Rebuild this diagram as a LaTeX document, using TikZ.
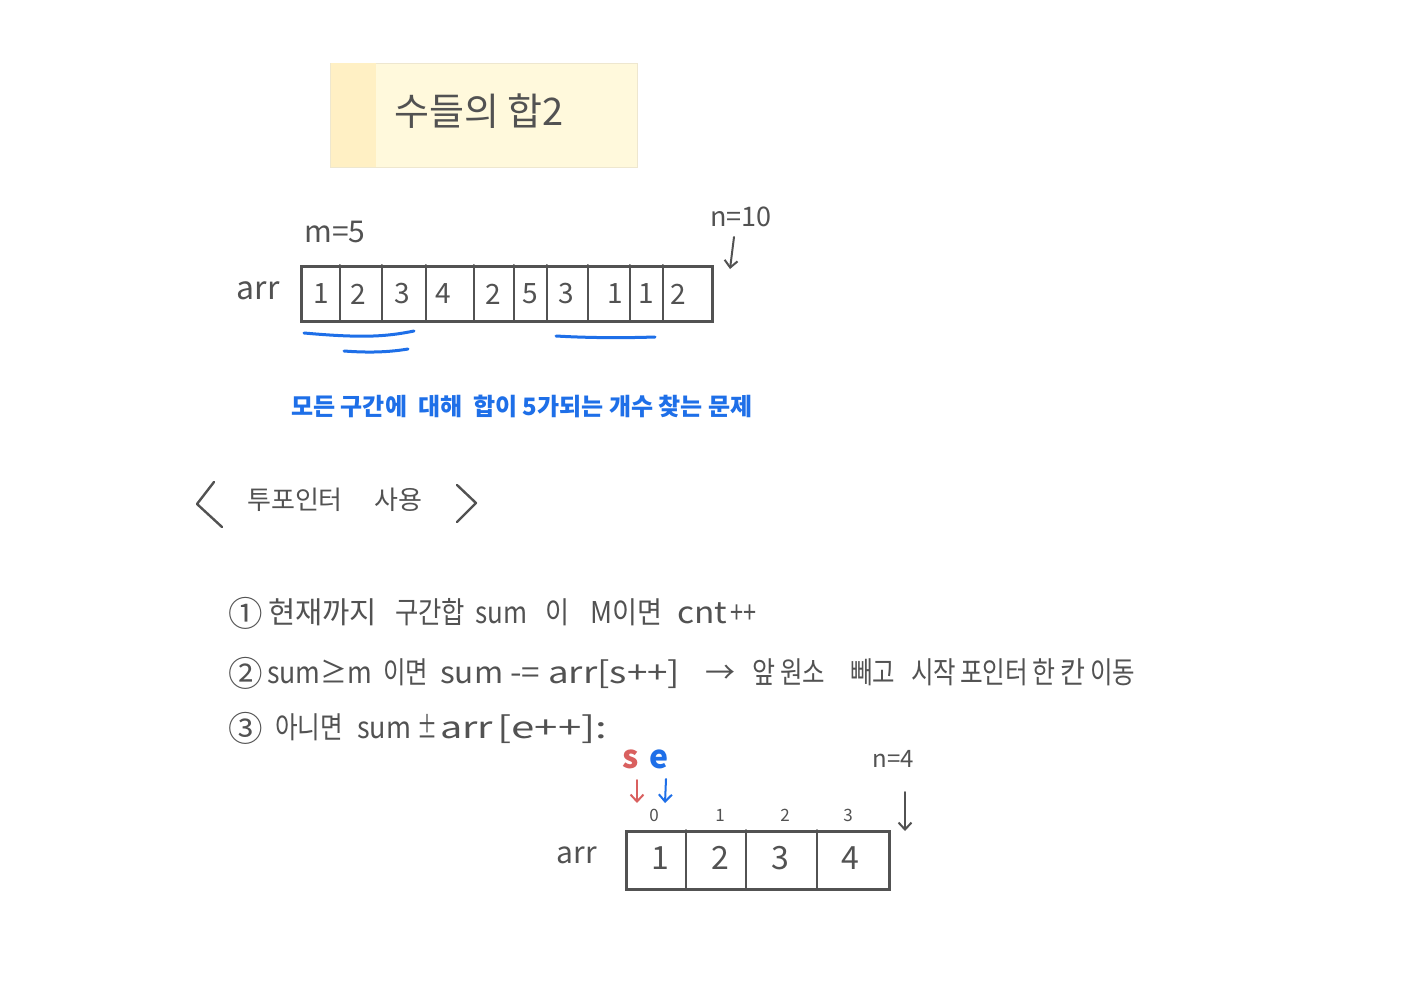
\documentclass[tikz,border=0pt]{standalone}
\usepackage{fontspec}
\setmainfont{Noto Sans CJK KR}
\usetikzlibrary{arrows.meta}
\definecolor{ink}{HTML}{525252}
\definecolor{penblue}{HTML}{1E6FE8}
\definecolor{penred}{HTML}{D9605F}
\definecolor{titlefill}{HTML}{FFF9DC}
\definecolor{titlestrip}{HTML}{FFF0C4}
\definecolor{titleedge}{HTML}{EEE7CF}
\newcommand{\fsz}[1]{\fontsize{#1}{#1}\selectfont}
% place text #3 at offset #1 (relative to line start), stretched/squeezed to width #2
\newcommand{\putat}[3]{\makebox[0pt][l]{\hspace*{#1pt}\resizebox{#2pt}{\height}{#3}}}
\newcommand{\putnat}[2]{\makebox[0pt][l]{\hspace*{#1pt}#2}}
\newcommand{\circnum}[1]{\raisebox{-3pt}{\scalebox{1.15}{#1}}}
\begin{document}
\begin{tikzpicture}[x=1pt,y=-1pt,
  txt/.style={text=ink, inner sep=0pt},
  pen/.style={draw=ink, line width=2.4pt, line cap=round, line join=round},
  thin pen/.style={draw=ink, line width=2pt, line cap=round},
  bluepen/.style={draw=penblue, line width=3pt, line cap=round},
  handarrow/.style={line width=2pt, line cap=round, -{Straight Barb[length=7pt,width=13pt]}},
  cellbox/.style={draw=ink, line width=2.6pt, inner sep=0pt, anchor=north west}]
\fill[white] (0,0) rectangle (1423,1000);
\useasboundingbox (0,0) rectangle (1423,1000);

% title
\node[draw=titleedge, line width=1pt, fill=titlefill, minimum width=307pt, minimum height=104pt, inner sep=0pt, anchor=north west] (title) at (330,63) {};
\fill[titlestrip] ([shift={(0.5pt,-0.5pt)}]title.north west) rectangle ([shift={(46pt,0.5pt)}]title.south west);
\node[txt, anchor=west, font=\fsz{38}] (titletext) at (394,111) {수들의 합2};

% first array
\node[txt, font=\fsz{30}] (m5) at (335,232) {m=5};
\node[txt, font=\fsz{27}] (n10) at (741,217) {n=10};
\coordinate (n10from) at (734,237);
\coordinate (n10to) at (730,269);
\draw[handarrow, draw=ink] (n10from) -- (n10to);
\node[txt, font=\fsz{32}] (arrA) at (258,291) {arr};
\node[cellbox, minimum width=411pt, minimum height=55pt] (rowA) at (300,265) {};
\foreach \x in {340,382,426,474,514,547,588,630,663}
  \draw[thin pen] (\x,265) -- (\x,320);
\foreach \v/\x [count=\i] in {1/321,2/358,3/402,4/443,2/493,5/530,3/566,1/615,1/646,2/678}
  \node[txt, font=\fsz{28}] (a\i) at (\x,294) {\v};
\draw[bluepen] (304,333) .. controls (360,338) and (385,337) .. (414,331);
\draw[bluepen] (344,351) .. controls (370,353) and (390,352) .. (408,349);
\draw[bluepen] (556,336) .. controls (590,338) and (625,338) .. (655,337);

\node[text=penblue, inner sep=0pt, anchor=west, font=\fsz{24}\bfseries] (goal) at (291,406) {모든 구간에 \ 대해 \ 합이 5가되는 개수 찾는 문제};

% two pointer heading
\draw[pen] (214,482) -- (197,504) -- (222,527);
\node[txt, anchor=west, font=\fsz{26}] (tp) at (247,500) {투포인터 \quad 사용};
\draw[pen] (457,485) -- (476,503) -- (457,522);

% steps (offsets measured from x = 228)
\node[txt, anchor=west, font=\fsz{30}] (step1) at (228,613)
  {\putnat{0}{\circnum{①}}\putat{40}{109}{현재까지}\putat{167}{70}{구간합}\putat{247}{52}{sum}\putat{317}{24}{이}\putat{362}{72}{M이면}\putat{449}{50}{cnt}\putat{502}{26}{++}\hspace*{530pt}};
\node[txt, anchor=west, font=\fsz{30}] (step2) at (228,673)
  {\putnat{0}{\circnum{②}}\putat{39}{105}{sum≥m}\putat{155}{45}{이면}\putat{212}{63}{sum}\putat{282}{30}{-=}\putat{320}{132}{arr[s++]}\putat{477}{30}{→}\putat{524}{23}{앞}\putat{552}{45}{원소}\putat{622}{45}{빼고}\putat{683}{45}{시작}\putat{732}{68}{포인터}\putat{804}{23}{한}\putat{832}{25}{칸}\putat{862}{45}{이동}\hspace*{907pt}};
\node[txt, anchor=west, font=\fsz{30}] (step3) at (228,728)
  {\putnat{0}{\circnum{③}}\putat{47}{68}{아니면}\putat{129}{54}{sum}\putat{189}{20}{±}\putat{212}{53}{arr}\putat{269}{110}{[e++]:}\hspace*{382pt}};

% second array
\node[text=penred, inner sep=0pt, font=\fsz{32}\bfseries] (s) at (631,759) {s};
\node[text=penblue, inner sep=0pt, font=\fsz{32}\bfseries] (e) at (659,759) {e};
\coordinate (sfrom) at (637,780);
\coordinate (efrom) at (666,779);
\coordinate (sto) at (637,803);
\coordinate (eto) at (665,803);
\draw[handarrow, draw=penred] (sfrom) -- (sto);
\draw[handarrow, draw=penblue] (efrom) -- (eto);
\node[txt, font=\fsz{24}] (n4) at (893,759) {n=4};
\coordinate (n4from) at (905,792);
\coordinate (n4to) at (905,831);
\draw[handarrow, draw=ink] (n4from) -- (n4to);
\foreach \v/\x in {0/654,1/720,2/785,3/848}
  \node[txt, font=\fsz{17}] (idx\v) at (\x,815) {\v};
\node[txt, font=\fsz{30}] (arrB) at (577,855) {arr};
\node[cellbox, minimum width=263pt, minimum height=58pt] (rowB) at (625,830) {};
\foreach \x in {686,746,817}
  \draw[thin pen] (\x,830) -- (\x,888);
\foreach \v/\x in {1/660,2/720,3/780,4/850}
  \node[txt, font=\fsz{32}] (b\v) at (\x,858) {\v};
\end{tikzpicture}
\end{document}
